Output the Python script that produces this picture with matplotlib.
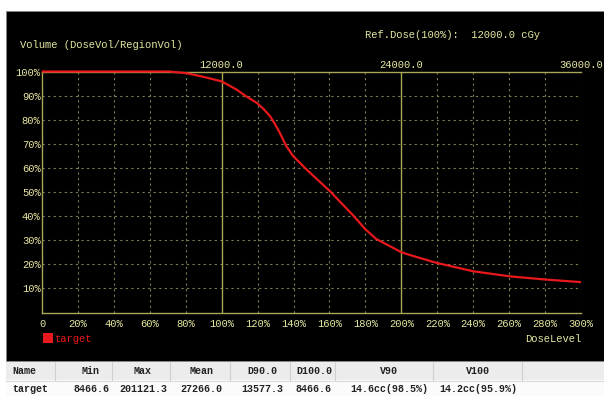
import matplotlib
matplotlib.use("Agg")
import matplotlib.pyplot as plt
from matplotlib.patches import Rectangle

# ---- data ----
dose_pct = [0, 60, 70.5, 80.5, 89.8, 100, 108.3, 113, 119.5, 123, 126.9, 129.5,
            132.3, 136, 139.8, 147.3, 160.3, 173.3, 180, 186, 193.7, 200, 205,
            219.6, 240, 260.4, 279.9, 300]
volume_pct = [100, 100, 100, 99.3, 97.8, 95.9, 92.5, 90, 87, 84.7, 81.5, 78.4,
              74.6, 69, 64.9, 59.3, 50.3, 40.2, 34.5, 30.5, 27.5, 25.0, 23.8,
              20.6, 17.1, 15.0, 13.7, 12.6]
x_ticks = [0, 20, 40, 60, 80, 100, 120, 140, 160, 180, 200, 220, 240, 260, 280, 300]
x_labels = ["0"] + [f"{v}%" for v in x_ticks[1:]]
y_ticks = [10, 20, 30, 40, 50, 60, 70, 80, 90, 100]
y_labels = [f"{v}%" for v in y_ticks]
ref_dose = 12000.0
ref_lines = [100, 200, 300]
ref_labels = ["12000.0", "24000.0", "36000.0"]
series_name = "target"

table_cols = ["Name", "Min", "Max", "Mean", "D90.0", "D100.0", "V90", "V100"]
table_vals = ["target", "8466.6", "201121.3", "27266.0", "13577.3", "8466.6",
              "14.6cc(98.5%)", "14.2cc(95.9%)"]

# ---- style ----
W, H = 604, 396
FONT = "Liberation Mono"
TXT = "#e6e6a0"
AXC = "#a8a858"
GRIDC = "#7c7c55"
RED = "#e8181c"
FS = 7.6

fig = plt.figure(figsize=(W / 100, H / 100), dpi=100)
fig.patch.set_facecolor("white")

def fx(px):
    return px / W

def fy(py):
    return 1 - py / H

# black panel (behind the axes)
fig.patches.append(Rectangle((fx(6), fy(361)), fx(604) - fx(6), fy(11) - fy(361),
                             transform=fig.transFigure, facecolor="black",
                             edgecolor="#888888", lw=0.6, zorder=-5))

x0, x1 = 42, 581
y0, y1 = 312.5, 71.5
ax = fig.add_axes([fx(x0), fy(y0), fx(x1) - fx(x0), fy(y1) - fy(y0)])
ax.set_zorder(2)
ax.set_facecolor("black")
ax.patch.set_alpha(0)
ax.set_xlim(0, 300)
ax.set_ylim(0, 100)

ax.spines["right"].set_visible(False)
for s in ["left", "bottom", "top"]:
    ax.spines[s].set_color(AXC)
    ax.spines[s].set_linewidth(1.0)

# grid
for xv in x_ticks[1:]:
    if xv in (100, 200):
        continue
    ax.axvline(xv, color=GRIDC, lw=0.8, ls=(0, (2, 3)), zorder=1)
for yv in y_ticks[:-1]:
    ax.axhline(yv, color=GRIDC, lw=0.8, ls=(0, (2, 3)), zorder=1)
for xv in ref_lines[:-1]:
    ax.axvline(xv, color=AXC, lw=1.0, zorder=1)

ax.plot(dose_pct, volume_pct, color=RED, lw=1.6, zorder=3, clip_on=False,
        solid_capstyle="butt", solid_joinstyle="round")

ax.set_xticks(x_ticks)
ax.set_xticklabels(x_labels)
ax.set_yticks(y_ticks)
ax.set_yticklabels(y_labels)
ax.tick_params(axis="both", length=0, colors=TXT, labelsize=FS)
ax.tick_params(axis="x", pad=5)
ax.tick_params(axis="y", pad=1)
for lab in ax.get_xticklabels() + ax.get_yticklabels():
    lab.set_fontfamily(FONT)

for xv, lab in zip(ref_lines, ref_labels):
    if xv < 300:
        ax.text(xv, 100.6, lab, color=TXT, fontsize=FS, family=FONT,
                ha="center", va="bottom")
    else:
        ax.text(xv + 12.5, 100.6, lab, color=TXT, fontsize=FS, family=FONT,
                ha="right", va="bottom", clip_on=False)

fig.text(fx(20), fy(45), "Volume (DoseVol/RegionVol)", color=TXT, fontsize=FS,
         family=FONT, ha="left", va="center")
fig.text(fx(365), fy(35), f"Ref.Dose(100%):  {ref_dose:.1f} cGy", color=TXT,
         fontsize=FS, family=FONT, ha="left", va="center")
fig.text(fx(581), fy(339), "DoseLevel", color=TXT, fontsize=FS, family=FONT,
         ha="right", va="center")

# legend
fig.patches.append(Rectangle((fx(43), fy(343)), fx(10), fy(333) - fy(343),
                             transform=fig.transFigure, facecolor=RED,
                             edgecolor="none", zorder=2))
fig.text(fx(55), fy(338.5), series_name, color=RED, fontsize=FS, family=FONT,
         ha="left", va="center")

# table
col_edges = [6, 55, 112, 170, 230, 290, 335, 433, 522, 604]
fig.patches.append(Rectangle((fx(6), fy(380)), fx(598), fy(362) - fy(380),
                             transform=fig.transFigure, facecolor="#ececec",
                             edgecolor="none", zorder=1))
fig.patches.append(Rectangle((fx(6), fy(396)), fx(598), fy(380) - fy(396),
                             transform=fig.transFigure, facecolor="#fbfbfb",
                             edgecolor="none", zorder=1))
for e in col_edges[1:-1]:
    fig.add_artist(plt.Line2D([fx(e), fx(e)], [fy(362), fy(380)],
                              transform=fig.transFigure, color="#d0d0d0", lw=0.8))
fig.add_artist(plt.Line2D([fx(6), fx(604)], [fy(380.5), fy(380.5)],
                          transform=fig.transFigure, color="#d8d8d8", lw=0.8))
centers = [None, 91, 143, 201, 262, 314, 389, 478]
TFS = 7.2
for i, (c, v) in enumerate(zip(table_cols, table_vals)):
    if i == 0:
        fig.text(fx(12), fy(371.5), c, color="#222222", fontsize=TFS, family=FONT,
                 ha="left", va="center", fontweight="bold")
        fig.text(fx(12), fy(389), v, color="#222222", fontsize=TFS, family=FONT,
                 ha="left", va="center", fontweight="bold")
    else:
        fig.text(fx(centers[i]), fy(371.5), c, color="#222222", fontsize=TFS,
                 family=FONT, ha="center", va="center", fontweight="bold")
        fig.text(fx(centers[i]), fy(389), v, color="#222222", fontsize=TFS,
                 family=FONT, ha="center", va="center", fontweight="bold")

fig.savefig("out.png", dpi=100, facecolor="white")
